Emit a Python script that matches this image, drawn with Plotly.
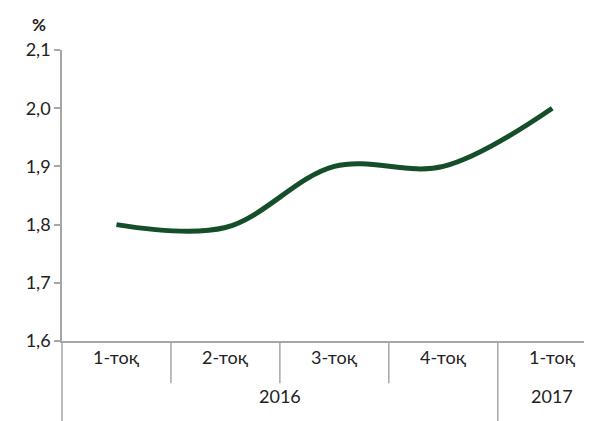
import plotly.graph_objects as go

# данные
kvartaly = ["1-тоқ", "2-тоқ", "3-тоқ", "4-тоқ", "1-тоқ"]
gody = ["2016", "2017"]
god_n = [4, 1]  # сколько кварталов в каждом году
znach = [1.80, 1.795, 1.90, 1.90, 2.00]

pos = list(range(len(kvartaly)))
SERYI = "#A6A6A6"
ZELEN = "#154F2A"
SHRIFT = "Lato, Noto Sans, sans-serif"

fig = go.Figure()
fig.add_trace(go.Scatter(x=pos, y=znach, mode="lines",
    line=dict(color=ZELEN, width=5, shape="spline", smoothing=1.0),
    showlegend=False, hoverinfo="skip"))

# подписи кварталов
for i, k in enumerate(kvartaly):
    fig.add_annotation(x=i, y=-0.10, xref="x", yref="paper", text=k,
        showarrow=False, font=dict(size=18, color="#222"))

# подписи годов и разделители
start = 0
for g, n in zip(gody, god_n):
    mid = start + (n - 1) / 2
    fig.add_annotation(x=mid, y=-0.234, xref="x", yref="paper", text=g,
        showarrow=False, font=dict(size=18, color="#222"))
    start += n

for i in range(len(kvartaly) - 1):
    b = i + 0.5
    dlin = -0.275 if b == god_n[0] - 0.5 else -0.145
    fig.add_shape(type="line", x0=b, x1=b, y0=0, y1=dlin, xref="x", yref="paper",
        line=dict(color=SERYI, width=1.5))
# левая ось до самого низа
fig.add_shape(type="line", x0=0, x1=0, y0=0, y1=-0.28, xref="paper", yref="paper",
    line=dict(color=SERYI, width=1.5))

fig.add_annotation(x=-0.06, y=1.13, xref="paper", yref="paper", text="<b>%</b>",
    showarrow=False, font=dict(size=17, color="#222"))

# страница имеет отступ 8px, поэтому фигура чуть меньше окна
fig.update_layout(
    width=584, height=413, separators=", ",
    margin=dict(l=54, r=0, t=42, b=80),
    paper_bgcolor="white", plot_bgcolor="white",
    font=dict(family=SHRIFT, size=18, color="#222"),
    xaxis=dict(range=[-0.5, 4.365], showticklabels=False, showgrid=False,
               zeroline=False, showline=True, linecolor=SERYI, linewidth=1.5,
               ticks=""),
    yaxis=dict(range=[1.6, 2.1], dtick=0.1, tickformat=".1f", showgrid=False,
               zeroline=False, showline=True, linecolor=SERYI, linewidth=1.5,
               ticks="outside", ticklen=6, tickcolor=SERYI, tickwidth=1.5,
               tickfont=dict(size=18), automargin=False),
)

fig.write_html("out.html")
